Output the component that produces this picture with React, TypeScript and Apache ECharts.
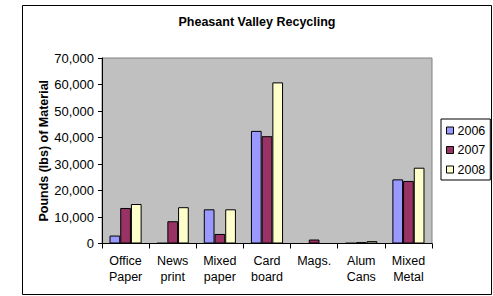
import React, { useEffect, useRef } from "react";
import * as echarts from "echarts";

const categories = ["Office\nPaper", "News\nprint", "Mixed\npaper", "Card\nboard", "Mags.", "Alum\nCans", "Mixed\nMetal"];
const years = ["2006", "2007", "2008"];
const values2006 = [3000, 200, 12900, 42500, 0, 200, 24200];
const values2007 = [13400, 8400, 3600, 40500, 1500, 500, 23600];
const values2008 = [14900, 13700, 12900, 60800, 0, 900, 28600];
const yTicks = { min: 0, max: 70000, interval: 10000 };
const colors = ["#9999FF", "#993366", "#FFFFCC"];

const FONT = "'Liberation Sans', Arial, sans-serif";

export default function App() {
  const ref = useRef<HTMLDivElement>(null);
  useEffect(() => {
    if (!ref.current) return;
    const chart = echarts.init(ref.current, undefined, { renderer: "svg" });
    const seriesData = [values2006, values2007, values2008];
    chart.setOption({
      animation: false,
      backgroundColor: "#ffffff",
      textStyle: { fontFamily: FONT, color: "#000" },
      graphic: [
        {
          type: "rect",
          shape: { x: 22.5, y: 5.5, width: 469, height: 289 },
          style: { fill: "none", stroke: "#000", lineWidth: 1 },
          silent: true,
        },
        {
          type: "text",
          x: 257,
          y: 22,
          style: {
            text: "Pheasant Valley Recycling",
            font: `bold 12.5px ${FONT}`,
            fill: "#000",
            textAlign: "center",
            textVerticalAlign: "middle",
          },
        },
      ],
      legend: {
        orient: "vertical",
        left: 441,
        top: 119,
        padding: [5, 5, 4, 5],
        itemWidth: 7,
        itemHeight: 7,
        itemGap: 6.5,
        icon: "rect",
        borderColor: "#000",
        borderWidth: 1,
        itemStyle: { borderColor: "#000", borderWidth: 1 },
        textStyle: { fontFamily: FONT, fontSize: 12.5, color: "#000", padding: [0, 0, 0, -1] },
        data: years,
      },
      grid: {
        left: 102,
        top: 58,
        width: 330,
        height: 185.5,
        show: true,
        backgroundColor: "#C0C0C0",
        borderColor: "#808080",
        borderWidth: 1,
        containLabel: false,
      },
      xAxis: {
        type: "category",
        data: categories,
        boundaryGap: true,
        axisLine: { show: true, lineStyle: { color: "#000", width: 1 } },
        axisTick: { show: true, length: 5, interval: 0, lineStyle: { color: "#000" } },
        axisLabel: {
          interval: 0,
          margin: 9,
          fontFamily: FONT,
          fontSize: 12.5,
          lineHeight: 16,
          color: "#000",
        },
        splitLine: { show: false },
      },
      yAxis: {
        type: "value",
        min: yTicks.min,
        max: yTicks.max,
        interval: yTicks.interval,
        name: "Pounds (lbs) of Material",
        nameLocation: "middle",
        nameGap: 52,
        nameMoveOverlap: false,
        nameTextStyle: { fontFamily: FONT, fontSize: 12.5, fontWeight: "bold", color: "#000" },
        axisLine: { show: true, lineStyle: { color: "#000", width: 1 } },
        axisTick: { show: true, length: 4, lineStyle: { color: "#000" } },
        axisLabel: {
          margin: 8,
          fontFamily: FONT,
          fontSize: 13,
          color: "#000",
          formatter: (v: number) => v.toLocaleString("en-US"),
        },
        splitLine: { show: false },
      },
      series: years.map((y, i) => ({
        name: y,
        type: "bar",
        data: seriesData[i],
        barWidth: 10.7,
        barGap: "0%",
        itemStyle: { color: colors[i], borderColor: "#000", borderWidth: 1 },
      })),
    });
    return () => chart.dispose();
  }, []);
  return (
    <div
      ref={ref}
      style={{ position: "absolute", left: 0, top: 0, width: 493, height: 296, background: "#fff" }}
    />
  );
}
